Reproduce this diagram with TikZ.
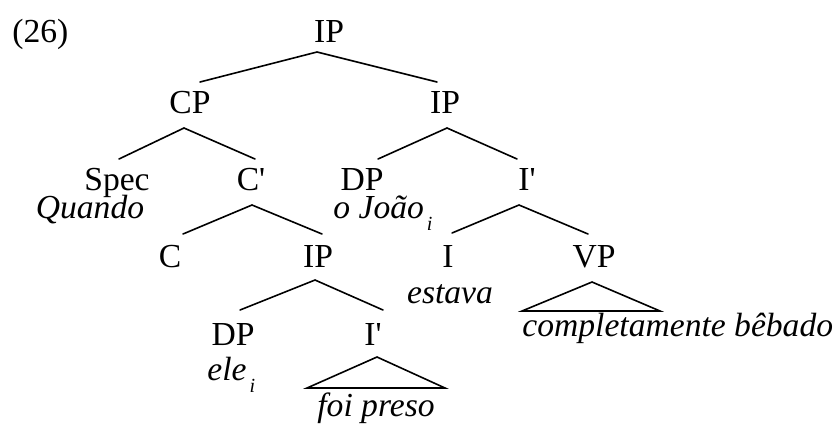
\documentclass[tikz,border=0pt]{standalone}
\usepackage{fontspec}
\setmainfont{Liberation Serif}
\usetikzlibrary{calc}
\newcommand{\subi}{\kern1.5pt\raisebox{-0.38em}{\fontsize{10}{10}\selectfont\itshape i}}
\begin{document}
\begin{tikzpicture}[x=0.5pt,y=-0.5pt,
  lab/.style={anchor=base,inner sep=0pt,font=\fontsize{16.8}{20}\selectfont},
  labw/.style={lab,anchor=base west},
  itl/.style={lab,font=\fontsize{16.8}{20}\selectfont\itshape},
  itlw/.style={itl,anchor=base west},
  branch/.style={line width=0.8pt,line cap=round},
  tri/.style={line width=0.8pt,line join=miter}]
\useasboundingbox (0,0) rectangle (838,424);
% labels
\node[labw] (ex) at (12,42) {(26)};
\node[lab] (IP0) at (329,42) {IP};
\node[lab] (CP) at (190,113) {CP};
\node[lab] (IP1) at (445,113) {IP};
\node[lab] (Spec) at (117,190) {Spec};
\node[lab] (C1) at (251,190) {C\textquotesingle};
\node[lab] (DP1) at (362,190) {DP};
\node[lab] (I1) at (527,190) {I\textquotesingle};
\node[itl] (quando) at (90,218) {Quando};
\node[itlw] (joao) at (333,218) {o João\subi};
\node[lab] (C) at (170,267) {C};
\node[lab] (IP2) at (318,267) {IP};
\node[lab] (I) at (448,267) {I};
\node[lab] (VP) at (594,267) {VP};
\node[itl] (estava) at (450,303) {estava};
\node[itlw] (bebado) at (522,336) {completamente bêbado};
\node[lab] (DP2) at (233,345) {DP};
\node[lab] (I2) at (373,345) {I\textquotesingle};
\node[itlw] (ele) at (207,380) {ele\subi};
\node[itl] (foi) at (376,416) {foi preso};
% branches
\draw[branch] ($(CP.base)+(10,-31)$) -- ($(IP0.base)+(-12,10)$) -- ($(IP1.base)+(-8,-31)$);
\draw[branch] ($(Spec.base)+(2,-31)$) -- ($(CP.base)+(-6,15)$) -- ($(C1.base)+(4,-31)$);
\draw[branch] ($(DP1.base)+(16,-31)$) -- ($(IP1.base)+(2,15)$) -- ($(I1.base)+(-10,-31)$);
\draw[branch] ($(C.base)+(13,-33)$) -- ($(C1.base)+(1,15)$) -- ($(IP2.base)+(4,-33)$);
\draw[branch] ($(I.base)+(4,-34)$) -- ($(I1.base)+(-8,15)$) -- ($(VP.base)+(-6,-33)$);
\draw[branch] ($(DP2.base)+(7,-35)$) -- ($(IP2.base)+(-3,13)$) -- ($(I2.base)+(10,-35)$);
% triangles
\draw[tri] ($(VP.base)+(-2,15)$) -- ($(VP.base)+(66,44)$) -- ($(VP.base)+(-72,44)$) -- cycle;
\draw[tri] ($(I2.base)+(4,12)$) -- ($(I2.base)+(72,43)$) -- ($(I2.base)+(-66,43)$) -- cycle;
\end{tikzpicture}
\end{document}
